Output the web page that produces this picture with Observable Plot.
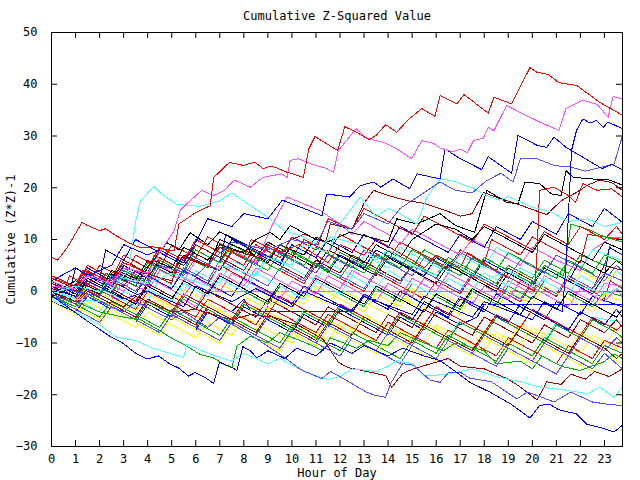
<!DOCTYPE html>
<html><head><meta charset="utf-8">
<script src="https://cdn.jsdelivr.net/npm/d3@7"></script>
<script src="https://cdn.jsdelivr.net/npm/@observablehq/plot@0.6"></script>
<style>body{margin:0;background:#fff}</style>
</head><body><div id="chart"></div>
<script>
const title = "Cumulative Z-Squared Value";
const xLabel = "Hour of Day";
const yLabel = "Cumulative (Z*Z)-1";
const xTicks = d3.range(0, 24);
const yTicks = [-30, -20, -10, 0, 10, 20, 30, 40, 50];

// [hour, cumulative value] readings per series
const redTop = [[0,6.6],[0.25,6.0],[0.65,8.4],[1.27,13.3],[1.5,12.7],[2.0,11.7],[2.25,12.1],[2.7,10.7],[3.2,9.4],[3.7,8.4],[4.2,8.6],[5.1,7.8],[5.3,13.0],[6.0,15.2],[6.25,15.8],[6.6,16.5],[6.75,22.0],[7.4,24.9],[8.0,24.3],[8.26,24.7],[8.47,24.9],[8.8,23.7],[9.16,24.2],[9.8,23.0],[10.48,22.0],[10.7,27.5],[10.96,29.9],[11.9,27.2],[12.2,31.8],[12.7,30.7],[13.2,29.3],[13.5,30.1],[13.9,32.2],[14.36,30.7],[14.8,33.0],[15.4,35.3],[15.95,33.8],[16.16,37.8],[16.86,36.2],[17.16,38.0],[18.17,34.4],[18.4,37.5],[19.14,36.2],[19.56,40.1],[19.9,43.2],[20.2,42.3],[20.66,41.9],[21.1,40.3],[21.5,40.0],[21.84,39.8],[22.8,36.5],[23.75,34.0]];
const magentaTop = [[0,1.0],[1,0.5],[1.5,3.0],[2.5,1.5],[3,4.5],[4,3.5],[4.5,7.5],[5.1,11.7],[5.35,15.6],[5.63,16.9],[6.25,19.5],[6.74,18.5],[7.2,19.5],[7.6,21.5],[8.26,20.1],[8.8,22.0],[9.58,22.7],[9.8,22.0],[9.93,25.3],[10.27,25.6],[10.8,24.6],[11.45,23.7],[11.73,23.0],[11.93,27.2],[12.67,31.4],[13.1,29.6],[13.8,28.8],[14.36,27.5],[14.98,25.6],[15.4,29.1],[15.88,28.6],[16.16,27.7],[16.7,26.9],[17.0,27.5],[17.3,26.8],[17.55,29.1],[17.96,29.6],[18.17,31.7],[18.4,31.0],[18.93,35.9],[19.6,34.3],[20.3,32.7],[21.1,31.1],[21.4,35.3],[22.1,36.9],[22.7,36.1],[23.15,33.6],[23.36,37.6],[23.75,37.2]];
const blueTop = [[0,0.5],[1,-1],[1.5,2],[3,-1.5],[4,0],[5.5,-3],[6,1],[7.5,-2],[8.5,0.5],[10,-3],[10.5,0],[12.5,-4],[13,-1],[15,-4.5],[15.5,-1],[17.5,-5],[18,-2],[20,-5.5],[20.5,-2],[21.25,-4],[21.4,5],[21.63,27.2],[21.84,31.1],[22.1,33.3],[22.4,32.5],[22.67,33.0],[22.95,31.7],[23.15,32.7],[23.75,31.4]];
const blueHigh = [[0,2],[1,4.5],[1.5,3],[2.5,5],[3,9],[4,7],[4.5,8],[5.5,5.5],[6,9.5],[6.5,14],[7.5,12.5],[8,15],[9,14],[9.6,17.6],[10.5,16],[11.25,14.6],[11.45,18.8],[12.4,18.2],[12.84,20.4],[13.4,21.1],[13.7,20.1],[14.2,21.7],[14.9,19.8],[15.2,22.7],[16.16,21.7],[16.37,27.5],[17,25.6],[17.9,23.5],[18.17,26.0],[19.14,22.8],[19.4,30.1],[20.2,28.2],[20.6,27.8],[20.9,29.8],[21.4,27.8],[22.1,25.9],[22.9,23.7],[23.3,24.5],[23.75,23.5]];
const lightBlueHigh = [[0,1],[2,-1],[2.5,3],[4,1],[4.5,5],[6,3],[7.5,9.5],[9,8],[10,10],[11,9],[11.5,13.5],[12.5,12],[13,15],[14,13],[14.5,16],[16.16,21.1],[16.8,19.5],[17.5,19],[18.1,21.4],[18.7,22.8],[19.2,21.1],[19.5,25.6],[20.2,25.6],[20.9,24.3],[21.6,24],[22.2,23.2],[22.9,24.0],[23.4,24.6],[23.75,30.1]];
const cyanPeak = [[0,0],[1,-1.5],[2,-2],[2.5,0.5],[3.2,4],[3.5,13.5],[3.7,17.4],[4.25,20.3],[4.5,19.1],[5.2,16.8],[6.2,16.4],[7,17.5],[7.5,19],[8.26,16.6],[8.96,14.4],[9.65,11.8],[10.5,10.5],[11.2,8.5],[11.6,10.5],[12.8,9],[13.5,6],[14,8],[15,5],[16,3],[16.5,6],[18,2],[19,4],[20,1],[21,3.5],[22,1],[23,-0.5],[23.75,1]];
const cyanHigh = [[0,-0.5],[1,1],[2,0],[2.5,3],[4,1.5],[5,3.5],[6.5,1],[7,5],[8.5,3],[9,6.5],[10,5],[10.5,9],[11.5,7.5],[12,13],[12.84,18.2],[13.5,14.4],[14,16],[14.5,15],[15.2,13],[15.6,18],[16.16,21.7],[16.7,21.3],[17.5,20],[18.1,18.5],[18.65,17.6],[19,18.3],[20,16.2],[20.7,15.5],[21.5,13.5],[22.3,14],[23,12.5],[23.75,13.3]];
const blackHigh = [[0,-1],[1,1],[2,0],[2.75,4],[3.5,2.5],[4.25,6],[5,4.5],[5.5,8.5],[6.5,6],[7,9],[8,7.5],[8.5,10],[9.1,11.4],[9.5,10],[9.93,12.7],[11,10],[11.5,9.5],[12.4,11.4],[13.2,10.5],[14,9.5],[14.36,14.0],[15.2,13],[16.16,15.0],[16.8,12.7],[17.6,11.4],[18.1,19.5],[18.93,17.2],[19.4,16.9],[19.7,21.1],[20.3,20.8],[20.8,18.8],[21.2,18.5],[21.4,23.3],[21.7,22.0],[22.5,21.7],[23.2,21.5],[23.75,20.5]];
const darkRedHigh = [[0,1.5],[1,0],[1.5,3],[3,1],[3.5,4],[5,2],[5.5,6.5],[7,4],[7.5,8],[9,6],[9.5,9],[10.5,11],[11.4,9.5],[11.6,13],[12.5,12],[13,17],[13.4,19.5],[14,18.5],[14.8,17.5],[15.5,17],[16.4,15.6],[17,14.5],[17.5,15],[17.96,19.1],[18.6,18.0],[19.4,16.8],[20,15.8],[20.6,14.8],[21.2,17.5],[21.8,19],[22.3,20.5],[22.8,21.5],[23.3,21],[23.75,19.5]];
const redHigh = [[0,2.5],[1,1],[1.3,4],[2.5,2],[3,5.5],[4,3.5],[5,1.5],[5.3,7],[6.5,5],[7,8.5],[8,6.5],[8.3,10],[9.5,7.5],[10.3,9],[11,7],[11.5,5.5],[12,9],[13,7],[13.5,10],[15,6],[15.5,4.5],[16,7],[17,4.5],[17.3,7.5],[18.5,4],[19.5,1.5],[20.1,0],[20.2,7.9],[20.3,19.5],[20.9,20.1],[21.5,18.5],[21.8,17.2],[22.1,20.8],[22.7,19.5],[23.3,19.8],[23.75,18.2]];
const blueBottom = [[0,-0.8],[0.5,-2.5],[1.5,-5.8],[2.5,-8.9],[2.93,-9.9],[3.48,-11.9],[3.97,-13.1],[4.45,-12.5],[4.94,-14.1],[5.28,-14.8],[5.7,-16.4],[5.98,-15.7],[6.4,-16.7],[6.74,-17.8],[6.99,-13.7],[7.5,-14.7],[7.71,-15.3],[7.96,-10.7],[8.3,-11.6],[8.54,-12.9],[9,-11.5],[9.7,-13],[10.2,-11],[11,-12.5],[11.6,-10],[12.5,-12],[13,-10.5],[14,-12.5],[14.6,-11],[15.5,-12.5],[16.16,-13.4],[16.8,-15.5],[17.4,-17.6],[18.24,-19.5],[19.14,-21.9],[19.9,-24.5],[20.3,-22.1],[20.7,-21.8],[21.1,-22.9],[21.84,-23.7],[22.26,-25.7],[22.8,-26.3],[23.4,-27.2],[23.75,-25.9]];
const lightBlueBottom = [[0,-0.5],[1,-2.5],[1.5,-1],[3,-4],[3.5,-2],[5,-5.5],[5.5,-4],[6.5,-7],[7,-5],[8.3,-8.5],[9.51,-12.2],[10.35,-15.1],[11.24,-16.9],[11.6,-15.5],[12,-16.5],[12.4,-17.6],[13.1,-19.5],[13.46,-20.1],[13.9,-20.5],[14.1,-17.9],[14.6,-14.0],[15.05,-14.3],[15.75,-17.2],[16.16,-17.6],[16.5,-15.8],[16.99,-15.6],[17.4,-16.8],[18.3,-17.5],[19.35,-20.8],[19.8,-19.5],[20.4,-20.5],[20.9,-21.4],[21.6,-19.5],[22.5,-21.4],[23.1,-21.8],[23.75,-22.1]];
const cyanBottom = [[0,-1.5],[1,-4],[2,-6.5],[2.72,-8.9],[3.5,-9.5],[4.2,-11],[5.5,-12.8],[5.63,-10.2],[6.5,-12],[7.5,-13.5],[8,-12],[9,-14],[9.5,-13],[10.5,-15.5],[11.04,-16.4],[11.5,-17],[12,-16.5],[12.5,-15],[13.5,-15.5],[14,-14.5],[14.36,-13.4],[15,-14],[15.5,-16.4],[16.5,-16],[17.5,-15],[18.5,-16.5],[19.5,-17.5],[20.3,-18.5],[21.4,-19.1],[22.3,-19.8],[22.8,-18.5],[23.4,-20.5],[23.75,-18.5]];
const greenLow = [[0,-1],[1,-2],[2,-4],[3,-5],[3.7,-5.5],[4.53,-7.7],[5.08,-9.3],[5.63,-10.6],[6.18,-12.2],[6.74,-12.9],[7.16,-14.1],[7.5,-14.8],[7.71,-10.6],[8.26,-8.7],[9,-10],[9.5,-8],[10.6,-10],[11.3,-11.5],[11.6,-9],[12.7,-11],[13.2,-9.5],[14,-10.5],[14.5,-8],[15.5,-10],[16.3,-11.5],[16.8,-10],[18,-11.5],[18.5,-14],[19.5,-13.5],[20,-15],[20.4,-12.5],[21.2,-14.5],[21.98,-15.3],[22.95,-13.7],[23.4,-12.1],[23.75,-13]];
const darkRedLow = [[0,0],[1,-2],[1.5,0.5],[3,-3],[3.5,-1],[5,-4],[6,-3.5],[7.5,-5.5],[8.3,-4.5],[9.2,-5],[10.2,-6.4],[11.3,-9.3],[11.93,-13.7],[12.3,-14.7],[13.5,-15.9],[13.9,-16.3],[14.15,-18.6],[14.6,-15.9],[15.05,-15.0],[16,-13.7],[16.5,-13],[17,-14.5],[18,-15],[19,-17],[19.5,-18.5],[20.2,-21],[20.6,-17.5],[21.2,-18],[21.6,-16],[22.2,-17],[22.6,-15.5],[23.2,-16.5],[23.75,-15]];
const m01 = [[0,1],[0.5,-0.5],[0.75,3],[1.5,1],[2,5],[3,2.5],[3.5,7],[4.5,4.5],[5,9],[6,6.5],[6.5,10.5],[7.5,8],[8.5,5.5],[9,9],[10,6.5],[10.5,10],[11.5,7.5],[12,11],[13,8.5],[14,6],[14.5,9.5],[15.5,7],[16.5,4.5],[17,8],[18,5.5],[18.3,10],[19.5,7],[20,10.5],[21,8],[22,5.5],[22.3,11],[23.75,10]];
const m02 = [[0,0],[1,-2],[1.25,2],[2.5,-1],[3,4],[4,2],[4.25,7],[5.5,4],[6,9],[7,6.5],[7.5,10],[9,6.5],[9.5,9],[10.5,6.5],[11.5,4],[12,7.5],[13.5,4],[14,8],[15,5.5],[16,3],[16.5,6.5],[17.5,4],[18.5,1.5],[19,5],[20,2.5],[20.5,6],[21.5,3.5],[22,7],[23,5],[23.25,9],[23.75,8]];
const m03 = [[0,2],[0.75,0],[1,4.5],[2,2],[2.25,8],[3,6],[3.5,10],[4.5,7.5],[5.5,5],[6,8],[7,5.5],[7.25,11],[8.5,8],[9.5,5.5],[10,9],[11,6.5],[11.5,3.5],[12,7],[13,4.5],[13.5,8],[14.5,5.5],[15.5,3],[16,6.5],[17.5,2.5],[18,6],[19,3.5],[20,1],[20.5,4.5],[21.5,2],[22.5,-0.5],[23,3],[23.2,8.5],[23.75,7]];
const m04 = [[0,0.5],[1,-1.5],[1.5,1],[2.5,-1.5],[3,2],[4,0],[4.5,4],[5.5,2],[6,6],[7,4],[7.5,8],[8.5,5.5],[9.2,13],[9.8,18.2],[11.17,15.6],[12,13],[12.5,11],[13,13.5],[14,11],[14.5,9],[15,12],[16,9.5],[17,7],[17.5,10],[18.5,7.5],[19.5,5],[20,8.5],[21,6],[22,4],[22.5,8],[23.3,10.4],[23.75,10.4]];
const m05 = [[0,-1],[1,-3],[1.5,-0.5],[2.5,-3],[3,0],[4,-2],[4.5,2.5],[5.5,0],[6,4],[7,1.5],[7.5,6],[8.5,3.5],[9,7],[10,4.5],[11,2],[11.5,5.5],[12.5,3],[13,7],[14,4.5],[14.5,8.5],[15.5,6],[16.5,3.5],[17,7],[18,4.5],[18.5,8.5],[19.5,6],[20.5,3.5],[21,7],[22,4.5],[22.5,8],[23.75,6]];
const m06 = [[0,3],[1,1],[1.5,4.5],[2.5,2],[3,6],[4,3.5],[4.5,8],[5.5,5.5],[6,9],[7,6.5],[8,4],[8.5,7.5],[9.5,5],[10.5,2.5],[11,6],[12,3.5],[12.5,7],[13.5,4.5],[14.5,2],[15,5],[16,2.5],[16.5,6],[17.5,3.5],[18.5,1],[19,4.5],[20,2],[21,-0.5],[21.5,3],[22.5,0.5],[23,5],[23.75,4]];
const m07 = [[0,0],[0.75,-2],[1,1.5],[2,-0.5],[2.5,3.4],[3.5,1],[4,4.5],[4.8,9.4],[5.3,8],[5.77,11.3],[6.5,9],[7,11.5],[8,9],[8.5,6.5],[9,9.5],[10,7],[11,4.5],[11.5,8],[12.5,5.5],[13.5,3],[14,6.5],[15,4],[16,1.5],[16.5,5],[17.5,2.5],[18.5,0],[19,3.5],[20,1],[20.5,4.5],[21.5,2],[22,6],[23,3.5],[23.5,6],[23.75,5]];
const m08 = [[0,-1],[1,-3],[1.25,0],[2.5,-3],[3,-1],[4,-3.5],[4.5,-1.5],[4.8,-3.9],[8.3,-3.9],[9,-1],[10,-3.5],[10.5,0],[11.5,-2.5],[12,0.5],[13,-2],[14,-4.5],[14.5,-1],[15.5,-3.5],[16,0],[17,-2.5],[17.5,1],[18.5,-1.5],[19,2],[20,-0.5],[20.5,3],[21.5,0.5],[22,4],[23,1.5],[23.5,4],[23.75,3]];
const m09 = [[0,-0.5],[0.5,-2],[1,1.5],[2,-1],[2.5,2.5],[3.5,0],[4,3],[5,0.5],[5.5,4.5],[6.5,2],[7,6],[8,3.5],[9,1],[9.5,4.5],[10.5,2],[11,5.5],[12,3],[13,0.5],[13.5,4],[14.5,1.5],[15,5],[16,2.5],[17,0],[17.5,3.5],[18.5,1],[19.5,-1.5],[20,2],[21,-0.5],[21.5,3],[22.5,0.5],[23,3.5],[23.75,2]];
const m10 = [[0,2.5],[1,0.5],[1.5,4],[2.5,1.5],[3,5],[4,2.5],[4.5,6.5],[5.5,4],[6.5,1.5],[7,5],[8,2.5],[8.5,6.5],[9.5,4],[10.5,1.5],[11,5],[12,2.5],[13,0],[13.5,3.5],[14.5,1],[15.5,-1.5],[16,2],[17,-0.5],[17.5,3],[18.5,0.5],[19.5,-2],[20,1.5],[21,-1],[21.5,2.5],[22.5,0],[23,-1.5],[23.25,2],[23.75,0.5]];
const m11 = [[0,1],[1,-1],[1.5,2],[2.5,-0.5],[3.5,-3],[4,0.5],[5,-2],[5.5,1.5],[6.5,-1],[7,2.5],[8,0],[9,-2.5],[9.5,1],[10.5,-1.5],[11,2],[12,-0.5],[13,-3],[13.5,0.5],[14.5,-2],[15,1.5],[16,-1],[17,-3.5],[17.5,0],[18.5,-2.5],[19,1],[20,-1.5],[20.5,2],[21.5,-0.5],[22.5,-3],[23,0],[23.75,-1]];
const m12 = [[0,0.5],[1,-1.5],[1.25,2],[2.5,-1],[3.5,-3.5],[4,0],[5,-2.5],[6,-5],[6.5,-1.5],[7.5,-4],[8,-1.5],[8.3,-4],[12.4,-4],[13,-1],[14,-3.5],[14.5,0],[15.5,-2.5],[16.5,-5],[17,-1.5],[18,-4],[18.5,-0.5],[19.5,-3],[20.5,-5.5],[21,-2],[22,-4.5],[22.5,-1],[23.75,-3]];
const m13 = [[0,-1],[1,-3.5],[1.5,-1],[2.5,-3.5],[3,0],[4,-2.5],[5,-5],[5.5,-1.5],[6,-3],[6.4,0],[23.75,0]];
const m14 = [[0,0],[1,-2.5],[1.5,0],[2.5,-2.5],[3.5,-5],[4,-1.5],[5,-4],[6,-6.5],[6.5,-3],[7.5,-5.5],[8.5,-8],[9,-4.5],[10,-7],[10.5,-3.5],[11.5,-6],[12.5,-8.5],[13,-5],[14,-7.5],[14.5,-4],[15.5,-6.5],[16.5,-9],[17,-5.5],[18,-8],[18.5,-4.5],[19.5,-7],[20.5,-9.5],[21,-6],[22,-8.5],[22.5,-5],[23.75,-6]];
const m15 = [[0,1.5],[1,-0.5],[1.5,3],[2.5,0.5],[3.5,-2],[4,1.5],[5,-1],[6,-3.5],[6.5,0],[7.5,-2.5],[8.5,-5],[9,-1.5],[10,-4],[11,-6.5],[11.5,-3],[12.5,-5.5],[13.5,-8],[14,-4.5],[15,-7],[15.5,-3.5],[16.5,-6],[17.5,-8.5],[18,-5],[19,-7.5],[20,-10],[20.5,-6.5],[21.5,-9],[22,-5.5],[23,-8],[23.5,-5.5],[23.75,-7]];
const m16 = [[0,-0.5],[1,-3],[2,-5.5],[2.5,-2],[3.5,-4.5],[4.5,-7],[5,-3.5],[6,-6],[6.5,-2.5],[7.5,-5],[8.5,-7.5],[9,-4],[10,-6.5],[11,-9],[11.5,-5.5],[12.5,-8],[13,-4.5],[14,-7],[15,-9.5],[15.5,-6],[16.5,-8.5],[17.5,-11],[18,-7.5],[19,-10],[19.5,-6.5],[20.5,-9],[21.5,-11.5],[22,-8],[23,-10.5],[23.5,-7],[23.75,-8]];
const m17 = [[0,-2],[1,-4.5],[1.5,-2],[2.5,-4.5],[3.5,-7],[4,-4],[5,-6.5],[6,-9],[6.5,-6],[7.5,-8.5],[8,-5],[9,-7.5],[10,-10],[10.5,-7],[11.5,-9.5],[12,-6],[13,-8.5],[14,-11],[14.5,-7.5],[15.5,-10],[16,-6.5],[17,-9],[18,-11.5],[18.5,-8],[19.5,-10.5],[20,-7],[21,-9.5],[22,-12],[22.5,-8.5],[23.5,-11],[23.75,-9]];
const m18 = [[0,-1],[1,-3],[1.5,-0.5],[2.5,-3],[3.5,-5.5],[4,-2],[5,-4.5],[6,-7],[6.5,-3.5],[7.5,-6],[8.5,-8.5],[9,-5],[10,-7.5],[11,-10],[11.5,-6.5],[12.5,-9],[13.5,-11.5],[14,-8],[15,-10.5],[15.5,-7],[16.5,-9.5],[17.5,-12],[18,-8.5],[19,-11],[20,-13.5],[20.5,-10],[21.5,-12.5],[22,-9],[23,-11.5],[23.5,-9],[23.75,-10]];
const m19 = [[0,0.5],[1,-1.5],[1.5,1.5],[2.5,-1],[3.5,-3.5],[4,0],[5,-2.5],[6,-5],[6.5,-1.5],[7.5,-4],[8.5,-6.5],[9,-3],[10,-5.5],[11,-8],[11.5,-4.5],[12.5,-7],[13.5,-9.5],[14,-6],[15,-8.5],[16,-11],[16.5,-7.5],[17.5,-10],[18.5,-12.5],[19,-9],[20,-11.5],[21,-14],[21.5,-10.5],[22.5,-13],[23,-9.5],[23.75,-11]];
const m20 = [[0,-0.5],[1,-2.5],[2,-5],[2.5,-2],[3.5,-4.5],[4.5,-7],[5,-3.5],[6,-6],[7,-8.5],[7.5,-5],[8.5,-7.5],[9.5,-10],[10,-6.5],[11,-9],[12,-11.5],[12.5,-8],[13.5,-10.5],[14.5,-13],[15,-9.5],[16,-12],[16.5,-8.5],[17.5,-11],[18.5,-13.5],[19,-10],[20,-12.5],[20.5,-9],[21.5,-11.5],[22.5,-14],[23,-10.5],[23.75,-12]];
const m21 = [[0,3],[1,1],[1.5,4.5],[2.5,2],[3.5,-0.5],[4,3],[5,0.5],[5.5,4],[6.5,1.5],[7.5,-1],[8,2.5],[9,0],[10,-2.5],[10.5,1],[11.5,-1.5],[12.5,-4],[13,-0.5],[14,-3],[15,-5.5],[15.5,-2],[16.5,-4.5],[17,-1],[18,-3.5],[19,-6],[19.5,-2.5],[20.5,-5],[21.5,-7.5],[22,-4],[23,-6.5],[23.5,-3.5],[23.75,-5]];
const m22 = [[0,1],[1,-1],[1.5,2.5],[2.5,0],[3,3.5],[4,1],[4.5,5],[5.5,2.5],[6.5,0],[7,3.5],[8,1],[8.5,4.5],[9.5,2],[10.5,-0.5],[11,3],[12,0.5],[12.5,4],[13.5,1.5],[14.5,-1],[15,2.5],[16,0],[16.5,3.5],[17.5,1],[18.5,-1.5],[19,2],[20,-0.5],[20.5,3],[21.5,0.5],[22.5,-2],[23,1.5],[23.75,1]];
const m24 = [[0,0],[1,-2],[1.5,1],[2.5,-1.5],[3.5,-4],[4,-0.5],[5,-3],[5.5,0.5],[6.5,-2],[7,1.5],[8,-1],[9,-3.5],[9.5,0],[10.5,-2.5],[11,1],[12,-1.5],[13,-4],[13.5,-0.5],[14.5,-3],[15,0.5],[16,-2],[17,-4.5],[17.5,-1],[18.5,-3.5],[19,0],[20,-2.5],[20.5,1],[21.5,-1.5],[22.5,-4],[23,-0.5],[23.75,-2]];
const m25 = [[0,-1],[0.5,-2],[0.75,1.5],[2,-1],[2.25,3.5],[3.5,1],[4,5.5],[5,3],[5.5,7],[6.5,4.5],[7,9],[8,6.5],[9,4],[9.5,7.5],[10.5,5],[11,8.5],[12,6],[13,3.5],[13.5,7],[14.5,4.5],[15,8],[16,5.5],[17,3],[17.5,6.5],[18.5,4],[19,7.5],[20,5],[21,2.5],[21.5,6],[22.5,3.5],[23,7],[23.75,5.5]];
const m26 = [[0,1.5],[1,-0.5],[1.5,3],[2.5,0.5],[3,5],[4,2.5],[4.5,6],[5.5,3.5],[6,8],[7,5.5],[7.5,10],[8.5,7.5],[9.5,5],[10,9],[11,6.5],[11.5,10],[12.5,7.5],[13,11],[14,8.5],[14.5,12.5],[15.5,10],[16.5,7.5],[17,11],[18,8.5],[18.5,12.5],[19.5,10],[20,13.5],[21,11],[21.5,15],[22.5,12.5],[23,16],[23.75,13.3]];
const m27 = [[0,0.5],[1,-1.5],[1.5,2],[2.5,-0.5],[3,4],[4,1.5],[4.5,6],[5.5,3.5],[6,8],[7,5.5],[7.5,9],[8.5,6.5],[9.5,4],[10,7.5],[11,5],[12,2.5],[12.5,6],[13.5,3.5],[14,7],[15,4.5],[15.5,8],[16.5,5.5],[17.5,3],[18,6.5],[19,4],[20,1.5],[20.5,5],[21.3,3],[21.6,13],[22.3,12],[23,10.5],[23.75,9.5]];
const m28 = [[0,-1.5],[1,-4],[2,-6.5],[2.5,-3.5],[3.5,-6],[4.5,-8.5],[5,-5],[6,-7.5],[7,-10],[7.5,-6.5],[8.5,-9],[9.5,-11.5],[10,-8],[11,-10.5],[11.5,-7],[12.5,-9.5],[13.5,-12],[14,-8.5],[15,-11],[16,-13.5],[16.5,-10],[17.5,-12.5],[18,-9],[19,-11.5],[20,-14],[20.5,-10.5],[21.5,-13],[22.5,-15.5],[23,-12],[23.75,-14]];
const m29 = [[0,-0.5],[1,-2.5],[1.5,0],[2.5,-2.5],[3.5,-5],[4,-1.5],[5,-4],[5.5,-0.5],[6.5,-3],[7.5,-5.5],[8,-2],[9,-4.5],[9.5,-1],[10.5,-3.5],[11.5,-6],[12,-2.5],[13,-5],[14,-7.5],[14.5,-4],[15.5,-6.5],[16,-3],[17,-5.5],[18,-8],[18.5,-4.5],[19.5,-7],[20,-3.5],[21,-6],[22,-8.5],[22.5,-5],[23.5,-7.5],[23.75,-6.5]];
const m30 = [[0,2],[1,0],[1.5,3.5],[2.5,1],[3,4.5],[4,2],[4.5,5.5],[5.5,3],[6,6.5],[7,4],[7.5,7.5],[8.5,5],[9,8.5],[10,6],[11,3.5],[11.5,7],[12.5,4.5],[13,8],[14,5.5],[15,3],[15.5,6.5],[16.5,4],[17,7.5],[18,5],[19,2.5],[19.5,6],[20.5,3.5],[21,7],[22,4.5],[23,2],[23.5,5],[23.75,4]];
const m31 = [[0,-2],[1,-4],[1.5,-1],[2.5,-3.5],[3.5,-6],[4,-2.5],[5,-5],[6,-7.5],[6.5,-4],[7.5,-6.5],[8,-3],[9,-5.5],[10,-8],[10.5,-4.5],[11.5,-7],[12,-3.5],[13,-6],[14,-8.5],[14.5,-5],[15.5,-7.5],[16,-4],[17,-6.5],[17.7,-5],[18,-2.5],[23.75,-2.5]];
const m32 = [[0,0.5],[1,-1.5],[2,-4],[2.5,-0.5],[3.5,-3],[4,0.5],[5,-2],[5.5,1.5],[6.5,-1],[7,2.5],[8,0],[8.5,3.5],[9.5,1],[10.5,-1.5],[11,2],[12,-0.5],[12.5,3],[13.5,0.5],[14,4],[15,1.5],[16,-1],[16.5,2.5],[17.5,0],[18,3.5],[19,1],[19.5,4.5],[20.5,2],[21.5,-0.5],[22,3],[23,0.5],[23.5,4],[23.75,3]];
const m33 = [[0,3],[1,1],[1.5,5],[2.5,2.5],[3,7],[4,4.5],[4.5,8.5],[5.5,6],[6,10],[7,7.5],[8,5],[8.5,9],[9.5,6.5],[10,10.5],[11,8],[11.5,14],[12.5,12],[13,16],[14,13.5],[15,11],[15.5,14.5],[16.5,12],[17.5,9.5],[18,13],[19,10.5],[20,8],[20.5,11.5],[21.5,9],[22,12.5],[23,10],[23.5,12.5],[23.75,11]];
const m34 = [[0,-1],[1,-3],[1.5,-0.5],[2.5,-3],[3.5,-5.5],[4,-2],[5,-4.5],[5.5,-1],[6.5,-3.5],[7.5,-6],[8,-2.5],[9,-5],[10,-7.5],[10.5,-4],[11.5,-6.5],[12,-3],[13,-5.5],[14,-8],[14.5,-4.5],[15.5,-7],[16.5,-9.5],[17,-6],[18,-8.5],[18.5,-5],[19.5,-7.5],[20.5,-10],[21,-6.5],[22,-9],[22.5,-5.5],[23.5,-8],[23.75,-9]];
const m35 = [[0,2],[1,0],[1.5,-1],[2,2.5],[3,0],[3.5,4],[4.5,1.5],[5.5,-1],[6,2.5],[7,0],[7.5,3.5],[8.5,1],[9.5,-1.5],[10,2],[11,-0.5],[11.5,3],[12.5,0.5],[13.5,-2],[14,1.5],[15,-1],[15.5,2.5],[16.5,0],[17.5,-2.5],[18,1],[19,-1.5],[19.5,2],[20.5,-0.5],[21.5,-3],[22,0.5],[23,-2],[23.5,0.5],[23.75,-1]];
const m36 = [[0,1],[1,-1],[1.5,2.5],[2.5,0],[3.5,-2.5],[4,1],[5,-1.5],[5.5,2],[6.5,-0.5],[7,3],[8,0.5],[9,-2],[9.5,1.5],[10.5,-1],[11,2.5],[12,0],[13,-2.5],[13.5,1],[14.5,-1.5],[15.5,-4],[16,-0.5],[17,-3],[17.5,0.5],[18.5,-2],[19.5,-4.5],[20,-1],[21,-3.5],[21.5,0],[22.5,-2.5],[23.5,-5],[23.75,-3.5]];
const m37 = [[0,-0.5],[1,2],[2,0],[2.5,4],[3.5,2],[4,6],[5,3.5],[5.5,7],[6.5,5],[7,10],[8,8],[9,5.5],[9.5,9],[10.5,7],[11,10.5],[12,8],[13,5.5],[13.5,9],[14.5,6.5],[15,10],[16,13],[16.8,12],[17.5,10],[18,12.5],[19,10],[20,7.5],[20.5,11],[21.5,8.5],[22.5,6],[23,9.5],[23.75,8]];
const m38 = [[0,0],[1,-2.5],[1.5,0],[2.5,-2.5],[3.5,-5],[4,-1.5],[5,-4],[6,-6.5],[6.5,-3],[7.5,-5.5],[8.5,-8],[9,-4.5],[10,-7],[11,-9.5],[11.5,-6],[12.5,-8.5],[13,-5],[14,-7.5],[15,-10],[15.5,-6.5],[16.5,-9],[17.5,-11.5],[18,-8],[19,-10.5],[19.5,-7],[20.5,-9.5],[21.5,-12],[22,-8.5],[23,-11],[23.5,-13],[23.75,-12]];
const m40 = [[0,-1],[1,-3.5],[2,-6],[2.5,-3],[3.5,-5.5],[4.5,-8],[5,-4.5],[6,-7],[7,-9.5],[7.5,-6],[8.5,-8.5],[9.5,-11],[10,-7.5],[11,-10],[12,-12.5],[12.5,-9],[13.5,-11.5],[14.5,-14],[15,-10.5],[16,-13],[16.5,-9.5],[17.5,-12],[18.5,-14.5],[19,-11],[20,-13.5],[21,-16],[21.5,-12.5],[22.5,-15],[23,-12],[23.75,-15]];

const seriesNames = ["m13","m31","m12","m08","m01","m02","m03","m04","m05","m06","m07","m09","m10","m11","m14","m15","m16","m17","m18","m19","m20","m21","m22","m24","m25","m26","m27","m28","m29","m30","m32","m33","m34","m35","m36","m37","m38","m40","greenLow","darkRedLow","cyanBottom","lightBlueBottom","blueBottom","redHigh","darkRedHigh","blackHigh","cyanHigh","cyanPeak","lightBlueHigh","blueHigh","blueTop","magentaTop","redTop"];
const seriesData = {redTop, magentaTop, blueTop, blueHigh, lightBlueHigh, cyanPeak, cyanHigh, blackHigh, darkRedHigh, redHigh, blueBottom, lightBlueBottom, cyanBottom, greenLow, darkRedLow, m01,m02,m03,m04,m05,m06,m07,m08,m09,m10,m11,m12,m13,m14,m15,m16,m17,m18,m19,m20,m21,m22,m24,m25,m26,m27,m28,m29,m30,m31,m32,m33,m34,m35,m36,m37,m38,m40};

// styles
const R="#ff0000", G="#00b000", B="#0000ff", M="#ff50ff", C="#50ffff", D="#a00000", K="#000000", Y="#ffff00", L="#5050ff";
const seriesColor = {redTop:R, magentaTop:M, blueTop:B, blueHigh:B, lightBlueHigh:L, cyanPeak:C, cyanHigh:C, blackHigh:K, darkRedHigh:D, redHigh:R, blueBottom:B, lightBlueBottom:L, cyanBottom:C, greenLow:G, darkRedLow:D,
  m01:R,m02:G,m03:B,m04:M,m05:C,m06:D,m07:K,m08:Y,m09:L,m10:R,m11:G,m12:B,m13:M,m14:C,m15:D,m16:Y,m17:Y,m18:L,m19:R,m20:G,m21:B,m22:M,m24:Y,m25:G,m26:B,m27:G,m28:Y,m29:R,m30:L,m31:B,m32:C,m33:R,m34:G,m35:M,m36:K,m37:K,m38:D,m40:L};

const rows = seriesNames.flatMap(name => seriesData[name].map(([h, v]) => ({name, h, v})));

const W = 640, H = 480, mL = 51, mR = 18, mT = 32, mB = 34;
const plotW = W - mL - mR, plotH = H - mT - mB, tick = 6;

const chart = Plot.plot({
  width: W, height: H,
  marginLeft: mL, marginRight: mR, marginTop: mT, marginBottom: mB,
  style: {fontFamily: "'DejaVu Sans Mono', monospace", fontSize: "12px", color: "#000", background: "#fff"},
  x: {domain: [0, 23.75]},
  y: {domain: [-30, 50]},
  marks: [
    Plot.line(rows, {x: "h", y: "v", z: "name", stroke: d => seriesColor[d.name], strokeWidth: 1, shapeRendering: "crispEdges"}),
    Plot.frame({stroke: "#000", strokeWidth: 1}),
    Plot.tickX(xTicks, {x: d => d, insetTop: plotH - tick, stroke: "#000"}),
    Plot.tickX(xTicks, {x: d => d, insetBottom: plotH - tick, stroke: "#000"}),
    Plot.tickY(yTicks, {y: d => d, insetRight: plotW - tick, stroke: "#000"}),
    Plot.tickY(yTicks, {y: d => d, insetLeft: plotW - tick, stroke: "#000"}),
    Plot.axisX({ticks: xTicks, tickSize: 0, tickPadding: 8, label: xLabel, labelAnchor: "center", labelArrow: "none", labelOffset: 30}),
    Plot.axisY({ticks: yTicks, tickSize: 0, tickPadding: 14, label: yLabel, labelAnchor: "center", labelArrow: "none", labelOffset: 45}),
    Plot.text([title], {frameAnchor: "top", dy: -21, text: d => d, fontSize: 12})
  ]
});
document.getElementById("chart").appendChild(chart);
</script>
</body></html>
